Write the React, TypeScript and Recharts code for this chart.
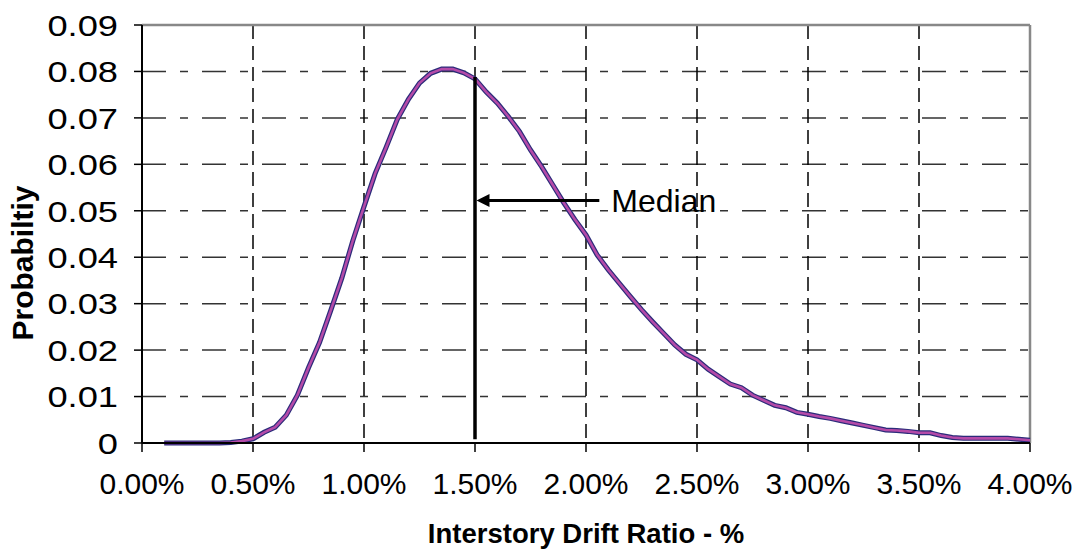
import {
    LineChart,
    Line,
    XAxis,
    YAxis,
    CartesianGrid,
    ReferenceLine,
} from "recharts";

const FONT = '"Liberation Sans", Arial, sans-serif';

// interstory drift ratio, in percent
const drift = [
    0.1, 0.15, 0.2, 0.25, 0.3, 0.35, 0.4, 0.45, 0.5, 0.55,
    0.6, 0.65, 0.7, 0.75, 0.8, 0.85, 0.9, 0.95, 1.0, 1.05,
    1.1, 1.15, 1.2, 1.25, 1.3, 1.35, 1.4, 1.45, 1.5, 1.55,
    1.6, 1.65, 1.7, 1.75, 1.8, 1.85, 1.9, 1.95, 2.0, 2.05,
    2.1, 2.15, 2.2, 2.25, 2.3, 2.35, 2.4, 2.45, 2.5, 2.55,
    2.6, 2.65, 2.7, 2.75, 2.8, 2.85, 2.9, 2.95, 3.0, 3.05,
    3.1, 3.15, 3.2, 3.25, 3.3, 3.35, 3.4, 3.45, 3.5, 3.55,
    3.6, 3.65, 3.7, 3.75, 3.8, 3.85, 3.9, 3.95, 4.0,
];

const probability = [
    0, 0, 0, 0, 0, 0, 0.0001, 0.0004, 0.0009, 0.0023,
    0.0034, 0.006, 0.0103, 0.0162, 0.0217, 0.0285, 0.0355, 0.0436, 0.0509, 0.058,
    0.0637, 0.0697, 0.074, 0.0775, 0.0796, 0.0805, 0.0805, 0.0797, 0.0784, 0.0756,
    0.0732, 0.0703, 0.0671, 0.0631, 0.0595, 0.0556, 0.0517, 0.0481, 0.0448, 0.0405,
    0.0373, 0.0344, 0.0315, 0.0287, 0.0261, 0.0236, 0.0211, 0.0191, 0.0179, 0.0159,
    0.0143, 0.0127, 0.0119, 0.0103, 0.0092, 0.0081, 0.0076, 0.0066, 0.0062, 0.0057,
    0.0053, 0.0048, 0.0043, 0.0038, 0.0033, 0.0028, 0.0027, 0.0025, 0.0022, 0.0022,
    0.0016, 0.0012, 0.001, 0.001, 0.001, 0.001, 0.001, 0.0008, 0.0006,
];

const xTicks = [0, 0.5, 1, 1.5, 2, 2.5, 3, 3.5, 4];
const yTicks = [0, 0.01, 0.02, 0.03, 0.04, 0.05, 0.06, 0.07, 0.08, 0.09];

// median marker and its arrow
const median = { x: 1.5, top: 0.0788, bottom: 0.0008 };
const arrow = { y: 0.0522, tail: 2.06, text: "Median" };

const data = drift.map((d, i) => ({ drift: d, p: probability[i] }));

const ArrowShape = (props: any) => {
    const { x1, y1, x2 } = props;
    const left = Math.min(x1, x2) + 1.5;
    const right = Math.max(x1, x2);
    return (
        <g>
            <line x1={left + 10} y1={y1} x2={right} y2={y1} stroke="#000" strokeWidth={3} />
            <polygon
                points={`${left},${y1} ${left + 13},${y1 - 6.5} ${left + 13},${y1 + 6.5}`}
                fill="#000"
            />
            <text
                x={right + 12}
                y={y1}
                dy="0.36em"
                fontSize={32}
                fontFamily={FONT}
                fill="#000"
            >
                {arrow.text}
            </text>
        </g>
    );
};

// y labels in the original are drawn a bit wider than the x labels
const YTick = (props: any) => {
    const { x, y, payload } = props;
    const v = payload.value as number;
    return (
        <g transform={`translate(${x},${y})`}>
            <text
                transform="scale(1.21,1)"
                textAnchor="end"
                dy="0.36em"
                fontSize={30}
                fontFamily={FONT}
                fill="#000"
            >
                {v === 0 ? "0" : v.toFixed(2)}
            </text>
        </g>
    );
};

const App = () => {
    return (
        <div style={{ position: "absolute", left: 0, top: 0, width: 1088, height: 556, background: "#fff" }}>
            <LineChart
                width={1088}
                height={556}
                data={data}
                margin={{ top: 25, right: 58, left: 0, bottom: 0 }}
            >
                <CartesianGrid
                    vertical={false}
                    stroke="#333"
                    strokeWidth={1.5}
                    strokeDasharray="24 14 8 14"
                />
                <CartesianGrid
                    horizontal={false}
                    stroke="#000"
                    strokeWidth={1.5}
                    strokeDasharray="14 7"
                />
                <XAxis
                    dataKey="drift"
                    type="number"
                    domain={[0, 4]}
                    ticks={xTicks}
                    tickFormatter={(v: number) => v.toFixed(2) + "%"}
                    height={113}
                    tickSize={9}
                    tickMargin={21}
                    axisLine={{ stroke: "#000", strokeWidth: 2 }}
                    tickLine={{ stroke: "#000", strokeWidth: 1.5 }}
                    tick={{ fill: "#000", fontSize: 30, fontFamily: FONT }}
                    interval={0}
                    label={{
                        value: "Interstory Drift Ratio - %",
                        position: "insideBottom",
                        offset: 13,
                        fill: "#000",
                        fontSize: 27.5,
                        fontWeight: "bold",
                        fontFamily: FONT,
                    }}
                />
                <YAxis
                    type="number"
                    domain={[0, 0.09]}
                    ticks={yTicks}
                    width={142}
                    tickSize={8}
                    tickMargin={16}
                    axisLine={{ stroke: "#000", strokeWidth: 2 }}
                    tickLine={{ stroke: "#000", strokeWidth: 1.5 }}
                    tick={<YTick />}
                    interval={0}
                    label={{
                        content: () => (
                            <text
                                x={22}
                                y={263}
                                transform="rotate(-90 22 263)"
                                textAnchor="middle"
                                dy="0.36em"
                                fontSize={30}
                                fontWeight="bold"
                                fontFamily={FONT}
                                fill="#000"
                            >
                                Probabiltiy
                            </text>
                        ),
                    }}
                />
                <ReferenceLine y={0.09} stroke="#888" strokeWidth={2.5} />
                <ReferenceLine x={4} stroke="#888" strokeWidth={2.5} />
                <Line
                    dataKey="p"
                    type="linear"
                    stroke="#2b2b7a"
                    strokeWidth={5}
                    dot={false}
                    activeDot={false}
                    isAnimationActive={false}
                />
                <Line
                    dataKey="p"
                    type="linear"
                    stroke="#b44aa8"
                    strokeWidth={2.6}
                    dot={false}
                    activeDot={false}
                    isAnimationActive={false}
                />
                <ReferenceLine
                    segment={[
                        { x: median.x, y: median.bottom },
                        { x: median.x, y: median.top },
                    ]}
                    stroke="#000"
                    strokeWidth={3.5}
                />
                <ReferenceLine
                    segment={[
                        { x: median.x, y: arrow.y },
                        { x: arrow.tail, y: arrow.y },
                    ]}
                    shape={ArrowShape}
                />
            </LineChart>
        </div>
    );
};

export default App;
